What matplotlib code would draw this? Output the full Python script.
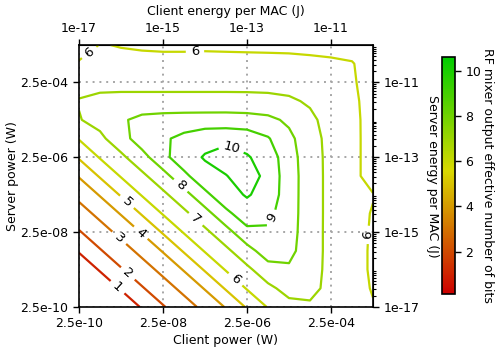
import numpy as np
import matplotlib
matplotlib.use('Agg')
import matplotlib.pyplot as plt
from matplotlib.colors import LinearSegmentedColormap, Normalize
from matplotlib.cm import ScalarMappable
from matplotlib.ticker import NullLocator, FixedLocator

# grid of powers (W), half-decade steps
client_power = [2.5e-10, 7.9e-10, 2.5e-09, 7.9e-09, 2.5e-08, 7.9e-08, 2.5e-07, 7.9e-07,
                2.5e-06, 7.9e-06, 2.5e-05, 7.9e-05, 2.5e-04, 7.9e-04, 2.5e-03]
server_power = [2.5e-10, 7.9e-10, 2.5e-09, 7.9e-09, 2.5e-08, 7.9e-08, 2.5e-07, 7.9e-07,
                2.5e-06, 7.9e-06, 2.5e-05, 7.9e-05, 2.5e-04, 7.9e-04, 2.5e-03]

# effective number of bits, rows = server power, columns = client power
enob = [
    [0.13, 0.13, 0.40, 1.07, 1.92, 2.60, 3.25, 4.07, 5.10, 6.06, 6.71, 6.85, 6.69, 6.27, 6.05],
    [0.13, 0.40, 1.07, 1.92, 2.60, 3.25, 4.07, 5.10, 6.07, 6.79, 7.32, 7.28, 6.72, 6.28, 5.95],
    [0.40, 1.07, 1.92, 2.60, 3.25, 4.07, 5.10, 6.07, 6.80, 7.56, 7.85, 7.38, 6.73, 6.28, 5.90],
    [1.07, 1.92, 2.60, 3.25, 4.07, 5.10, 6.07, 6.80, 7.60, 8.56, 8.29, 7.41, 6.74, 6.28, 5.90],
    [1.92, 2.60, 3.25, 4.07, 5.10, 6.07, 6.80, 7.60, 8.77, 8.86, 8.41, 7.41, 6.74, 6.28, 5.92],
    [2.60, 3.25, 4.07, 5.10, 6.07, 6.80, 7.60, 8.80, 9.49, 9.24, 8.46, 7.42, 6.74, 6.28, 5.95],
    [3.25, 4.07, 5.10, 6.07, 6.80, 7.60, 8.80, 9.56, 10.10, 9.57, 8.48, 7.42, 6.74, 6.28, 6.04],
    [4.07, 5.10, 6.07, 6.80, 7.60, 8.80, 9.56, 9.95, 10.60, 9.63, 8.49, 7.42, 6.74, 6.28, 5.60],
    [5.10, 6.07, 6.80, 7.60, 8.77, 9.49, 10.10, 10.60, 10.10, 9.53, 8.43, 7.40, 6.74, 6.28, 5.60],
    [6.06, 6.79, 7.56, 8.56, 8.86, 9.24, 9.57, 9.63, 9.52, 9.08, 8.25, 7.35, 6.72, 6.28, 5.60],
    [6.95, 7.32, 7.85, 8.29, 8.41, 8.46, 8.48, 8.49, 8.43, 8.25, 7.81, 7.17, 6.69, 6.27, 5.60],
    [7.05, 7.22, 7.25, 7.25, 7.25, 7.25, 7.25, 7.25, 7.24, 7.22, 7.12, 6.90, 6.60, 6.21, 5.60],
    [6.69, 6.73, 6.74, 6.74, 6.74, 6.74, 6.74, 6.74, 6.74, 6.72, 6.69, 6.60, 6.41, 6.11, 5.60],
    [6.15, 6.20, 6.28, 6.28, 6.28, 6.28, 6.28, 6.28, 6.28, 6.28, 6.27, 6.21, 6.15, 6.05, 5.60],
    [5.30, 6.05, 5.95, 5.88, 5.84, 5.84, 5.86, 5.84, 5.82, 5.80, 5.78, 5.75, 5.70, 5.67, 5.50],
]

levels = [1, 2, 3, 4, 5, 6, 7, 8, 9, 10]

power_ticks = [2.5e-10, 2.5e-08, 2.5e-06, 2.5e-04]
power_tick_labels = ['2.5e-10', '2.5e-08', '2.5e-06', '2.5e-04']
energy_ticks = [1e-17, 1e-15, 1e-13, 1e-11]
energy_tick_labels = ['1e-17', '1e-15', '1e-13', '1e-11']
seconds_per_mac = 4e-8          # energy per MAC = power * 4e-8

# where the contour labels sit (client W, server W)
label_pos = [(1.8e-09, 7.1e-10), (3.7e-09, 2.0e-09), (2.0e-09, 1.5e-08), (6.0e-09, 1.85e-08),
             (3.45e-09, 1.6e-07), (1.28e-06, 1.3e-09), (1.44e-07, 1.85e-03), (5.0e-10, 1.3e-03),
             (2.1e-03, 2.1e-08), (1.6e-07, 6.0e-08), (6.7e-08, 4.5e-07), (1.17e-05, 5.3e-08),
             (1.17e-06, 6.1e-06)]

cmap = LinearSegmentedColormap.from_list('ryg', [(0.0, (0.80, 0.0, 0.0)),
                                                 (0.52, (0.85, 0.85, 0.0)),
                                                 (1.0, (0.0, 0.80, 0.0))])
z = np.array(enob)
norm = Normalize(vmin=z.min(), vmax=z.max())

# contour in decades of power so the axes stay evenly spaced
lx = np.log10(client_power)
ly = np.log10(server_power)


def to_energy(t):
    return 10.0 ** np.asarray(t, dtype=float) * seconds_per_mac


def to_log_power(e):
    e = np.clip(np.asarray(e, dtype=float), 1e-300, None)
    return np.log10(e / seconds_per_mac)


fig = plt.figure(figsize=(4.98, 3.5), dpi=100)
ax = fig.add_axes([0.1586, 0.1229, 0.5904, 0.7486])
ax.set_xlim(lx[0], lx[-1])
ax.set_ylim(ly[0], ly[-1])

cs = ax.contour(lx, ly, z, levels=levels, cmap=cmap, norm=norm, linewidths=1.6)
manual = [(np.log10(px), np.log10(py)) for px, py in label_pos]
ax.clabel(cs, inline=True, fmt='%d', fontsize=9.5, colors='k', manual=manual)

ax.set_xticks(np.log10(power_ticks))
ax.set_xticklabels(power_tick_labels)
ax.set_yticks(np.log10(power_ticks))
ax.set_yticklabels(power_tick_labels)
ax.xaxis.set_minor_locator(NullLocator())
ax.yaxis.set_minor_locator(NullLocator())
ax.tick_params(labelsize=9, width=1, length=4)
ax.grid(True, color='0.65', linestyle=(0, (1, 2.5)), linewidth=1.4)
for sp in ax.spines.values():
    sp.set_linewidth(1.2)

ax.set_xlabel('Client power (W)', fontsize=9)
ax.set_ylabel('Server power (W)', fontsize=9)
ax.xaxis.set_label_coords(0.5, -0.105)
ax.yaxis.set_label_coords(-0.204, 0.5)

# energy per MAC axes
top = ax.secondary_xaxis('top', functions=(to_energy, to_log_power))
top.set_xticks(energy_ticks)
top.set_xticklabels(energy_tick_labels)
top.xaxis.set_minor_locator(NullLocator())
top.tick_params(labelsize=9, width=1, length=4)
top.set_xlabel('Client energy per MAC (J)', fontsize=9, labelpad=5)

minor_energy = [k * 10.0 ** d for d in range(-18, -9) for k in range(2, 10)]
right = ax.secondary_yaxis('right', functions=(to_energy, to_log_power))
right.set_yticks(energy_ticks)
right.set_yticklabels(energy_tick_labels)
right.yaxis.set_minor_locator(FixedLocator(minor_energy))
right.tick_params(labelsize=9, width=1, length=4)
right.tick_params(which='minor', length=2, width=0.8)
right.set_ylabel('Server energy per MAC (J)', fontsize=9, rotation=270, va='bottom', labelpad=5)

# colorbar
cax = fig.add_axes([0.8876, 0.16, 0.026, 0.677])
cb = fig.colorbar(ScalarMappable(norm=norm, cmap=cmap), cax=cax, ticks=[2, 4, 6, 8, 10])
cb.ax.tick_params(labelsize=9, width=1, length=4)
cb.outline.set_linewidth(1.2)
cb.set_label('RF mixer output effective number of bits', fontsize=9, rotation=270, va='bottom')
cax.yaxis.set_label_coords(3.0, 0.5)

fig.savefig('out.png', dpi=100)
